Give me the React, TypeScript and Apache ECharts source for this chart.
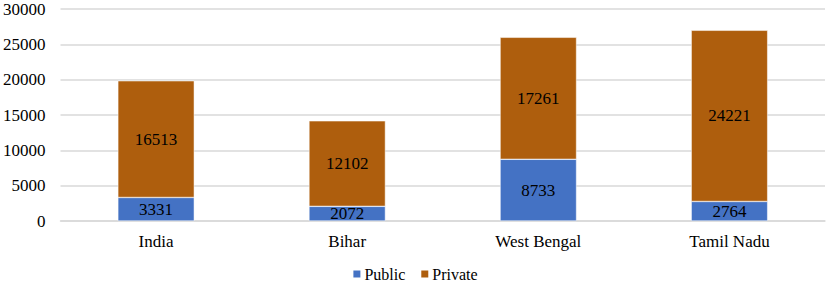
import React, { useEffect, useRef } from "react";
import * as echarts from "echarts";

const categories = ["India", "Bihar", "West Bengal", "Tamil Nadu"];
const publicValues = [3331, 2072, 8733, 2764];
const privateValues = [16513, 12102, 17261, 24221];
const yTicks = { min: 0, max: 30000, interval: 5000 };

const FONT = "Times New Roman";

export default function App() {
  const ref = useRef<HTMLDivElement>(null);
  useEffect(() => {
    if (!ref.current) return;
    const chart = echarts.init(ref.current, undefined, { renderer: "svg" });
    chart.setOption({
      animation: false,
      textStyle: { fontFamily: FONT },
      grid: { left: 60, right: 4, top: 9, bottom: 65, containLabel: false },
      legend: {
        top: 266,
        left: "center",
        padding: 0,
        itemWidth: 9,
        itemHeight: 9,
        itemGap: 14,
        icon: "rect",
        textStyle: { fontFamily: FONT, fontSize: 16, color: "#000", padding: [0, 0, 0, -2] },
        data: ["Public", "Private"],
      },
      xAxis: {
        type: "category",
        data: categories,
        axisTick: { show: false },
        axisLine: { show: true, lineStyle: { color: "#D9D9D9", width: 1.5 } },
        axisLabel: { fontFamily: FONT, fontSize: 17, color: "#000", margin: 12 },
      },
      yAxis: {
        type: "value",
        min: yTicks.min,
        max: yTicks.max,
        interval: yTicks.interval,
        axisLine: { show: false },
        axisTick: { show: false },
        splitLine: { lineStyle: { color: "#D9D9D9", width: 1.5 } },
        axisLabel: {
          fontFamily: FONT,
          fontSize: 17,
          color: "#000",
          margin: 15,
          formatter: (v: number) => String(v),
        },
      },
      series: [
        {
          name: "Public",
          type: "bar",
          stack: "total",
          data: publicValues,
          barWidth: "40%",
          itemStyle: { color: "#4472C4", borderColor: "#ffffff", borderWidth: 0.5 },
          label: { show: true, position: "inside", fontFamily: FONT, fontSize: 17, color: "#000" },
        },
        {
          name: "Private",
          type: "bar",
          stack: "total",
          data: privateValues,
          barWidth: "40%",
          itemStyle: { color: "#AE5E0D", borderColor: "#ffffff", borderWidth: 0.5 },
          label: { show: true, position: "inside", fontFamily: FONT, fontSize: 17, color: "#000" },
        },
      ],
    });
    return () => chart.dispose();
  }, []);
  return <div ref={ref} style={{ width: 829, height: 286, position: "absolute", left: 0, top: 0 }} />;
}
